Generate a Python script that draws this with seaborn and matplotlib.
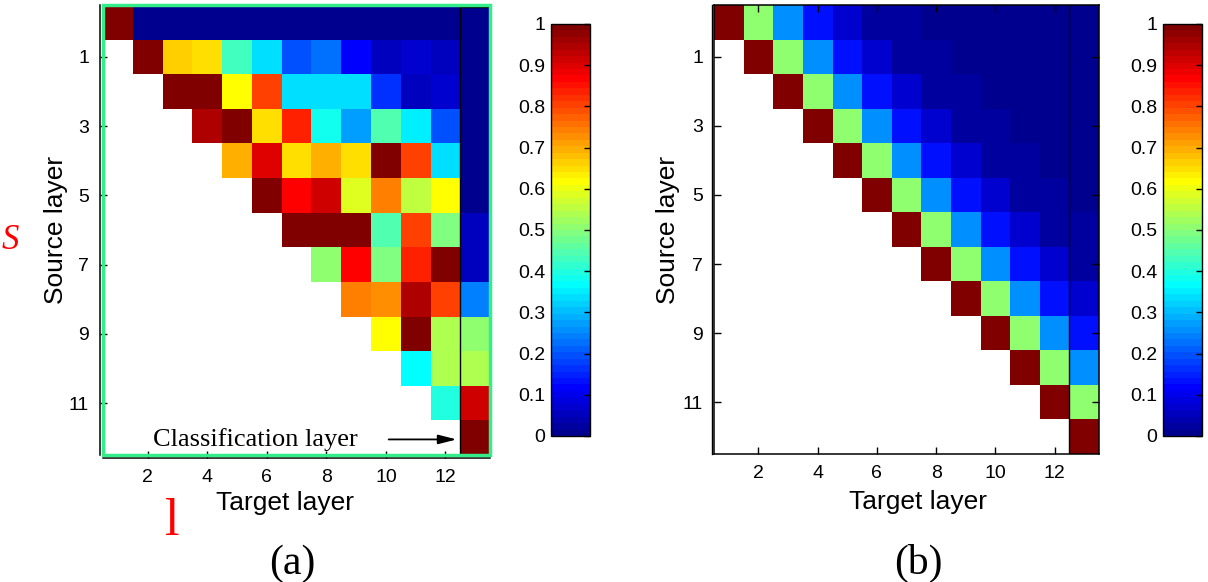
import numpy as np
import matplotlib
matplotlib.use("Agg")
import matplotlib.pyplot as plt
from matplotlib.colors import ListedColormap
from matplotlib.patches import Rectangle
import pandas as pd
import seaborn as sns

plt.rcParams['font.family'] = ['Liberation Sans', 'DejaVu Sans']
SERIF = ['Liberation Serif', 'DejaVu Serif']

# layer indices
source_layers = list(range(0, 13))
target_layers = list(range(1, 14))
y_ticks = [1, 3, 5, 7, 9, 11]
x_ticks = [2, 4, 6, 8, 10, 12]
cbar_ticks = [0, 0.1, 0.2, 0.3, 0.4, 0.5, 0.6, 0.7, 0.8, 0.9, 1]
cbar_labels = ['0', '0.1', '0.2', '0.3', '0.4', '0.5', '0.6', '0.7', '0.8', '0.9', '1']

# (a) each row starts at target layer = source layer + 1
rows_a = [
    [1, 0.01, 0.01, 0.01, 0.01, 0.01, 0.01, 0.01, 0.01, 0.01, 0.01, 0.01, 0.01],
    [1, 0.66, 0.65, 0.43, 0.34, 0.20, 0.23, 0.12, 0.06, 0.07, 0.06, 0.01],
    [1, 1, 0.62, 0.81, 0.34, 0.34, 0.33, 0.17, 0.06, 0.07, 0.01],
    [0.94, 1, 0.65, 0.83, 0.39, 0.27, 0.45, 0.35, 0.20, 0.01],
    [0.69, 0.90, 0.65, 0.69, 0.65, 1, 0.81, 0.34, 0.01],
    [1, 0.87, 0.92, 0.59, 0.74, 0.56, 0.62, 0.01],
    [1, 1, 1, 0.45, 0.80, 0.49, 0.06],
    [0.51, 0.86, 0.49, 0.84, 1, 0.06],
    [0.74, 0.72, 0.94, 0.80, 0.24],
    [0.61, 1, 0.54, 0.50],
    [0.37, 0.54, 0.54],
    [0.40, 0.91],
    [1],
]

# (b) value vs. distance from the diagonal
decay_b = [1, 0.5, 0.25, 0.125, 0.0625, 0.031, 0.016, 0.008, 0.004, 0.002, 0.001, 0.0005, 0.0002]


def upper_table(rows):
    m = np.full((len(source_layers), len(target_layers)), np.nan)
    for r, vals in enumerate(rows):
        m[r, r:r + len(vals)] = vals
    return pd.DataFrame(m, index=source_layers, columns=target_layers)


mat_a = upper_table(rows_a)
mat_b = upper_table([decay_b[:13 - r] for r in source_layers])


def matlab_jet(m=64):
    n = int(np.ceil(m / 4))
    u = np.concatenate([np.arange(1, n + 1) / n, np.ones(n - 1), np.arange(n, 0, -1) / n])
    g = int(np.ceil(n / 2)) - int(m % 4 == 1) + np.arange(1, len(u) + 1)
    r = g + n
    b = g - n
    J = np.zeros((m, 3))
    J[r[r <= m] - 1, 0] = u[r <= m]
    J[g[g <= m] - 1, 1] = u[g <= m]
    J[b[b >= 1] - 1, 2] = u[b >= 1]
    return ListedColormap(J)


jet = matlab_jet(64)

fig = plt.figure(figsize=(12.08, 5.82), dpi=100)
ax_a = fig.add_axes([0.0853, 0.2182, 0.3204, 0.7732])
cax_a = fig.add_axes([0.4561, 0.2509, 0.0323, 0.7079])
ax_b = fig.add_axes([0.5911, 0.2199, 0.3187, 0.7715])
cax_b = fig.add_axes([0.9627, 0.2509, 0.0323, 0.7079])


def draw(ax, cax, mat, offset_spines):
    sns.heatmap(mat, ax=ax, cbar_ax=cax, cmap=jet, vmin=0, vmax=1,
                xticklabels=False, yticklabels=False)
    for s in ax.spines.values():
        s.set_visible(not offset_spines)
        s.set_color('black')
        s.set_linewidth(1.1)
    if offset_spines:
        for name in ['left', 'bottom']:
            ax.spines[name].set_visible(True)
            ax.spines[name].set_position(('outward', 2))
    ax.set_xticks([t - 0.5 for t in x_ticks])
    ax.set_xticklabels([str(t) for t in x_ticks])
    ax.set_yticks([t + 0.5 for t in y_ticks])
    ax.set_yticklabels([str(t) for t in y_ticks], rotation=0)
    ax.tick_params(direction='in', length=5, width=1, color='black', pad=8,
                   labelsize=14, top=not offset_spines, right=not offset_spines)
    ax.set_xlabel('Target layer', fontsize=19)
    ax.set_ylabel('Source layer', fontsize=19)

    cb = ax.collections[0].colorbar
    cb.set_ticks(cbar_ticks)
    cb.set_ticklabels(cbar_labels)
    cb.outline.set_edgecolor('black')
    cb.outline.set_linewidth(1)
    cax.tick_params(axis='y', left=False, right=True, labelleft=True, labelright=False,
                    direction='in', length=4, width=1, labelsize=14, pad=4)


draw(ax_a, cax_a, mat_a, True)
draw(ax_b, cax_b, mat_b, False)
ax_a.xaxis.set_label_coords(0.47, -0.08)
ax_a.yaxis.set_label_coords(-0.09, 0.5)
ax_b.xaxis.set_label_coords(0.53, -0.08)
ax_b.yaxis.set_label_coords(-0.088, 0.5)

# (a) green box and classification column
ax_a.add_patch(Rectangle((0, 0), 1, 1, transform=ax_a.transAxes, fill=False,
                         edgecolor='#33ee88', linewidth=2.5, clip_on=False, zorder=5))
ax_a.add_patch(Rectangle((12, 0.05), 1, 12.95, fill=False, edgecolor='black',
                         linewidth=1, zorder=4))
ax_a.text(5.1, 12.55, 'Classification layer', family=SERIF, fontsize=19,
          ha='center', va='center')
ax_a.annotate('', xy=(11.97, 12.55), xytext=(9.5, 12.55),
              arrowprops=dict(arrowstyle='-|>,head_length=1.1,head_width=0.28',
                              color='black', lw=1.3))

# (b) doubled left edge and classification column line
ax_b.plot([-0.005, -0.005], [0, 1], transform=ax_b.transAxes, color='black',
          lw=1, clip_on=False)
ax_b.axvline(12, color='black', lw=1)

# annotations
fig.text(0.0083, 0.586, 'S', color='red', family=SERIF, style='italic',
         fontsize=25, ha='center', va='center')
fig.text(0.143, 0.103, 'l', color='red', family=SERIF, fontsize=38,
         ha='center', va='center')
fig.text(0.242, 0.031, '(a)', family=SERIF, fontsize=30, ha='center', va='center')
fig.text(0.760, 0.031, '(b)', family=SERIF, fontsize=30, ha='center', va='center')

fig.savefig('out.png', dpi=100)
